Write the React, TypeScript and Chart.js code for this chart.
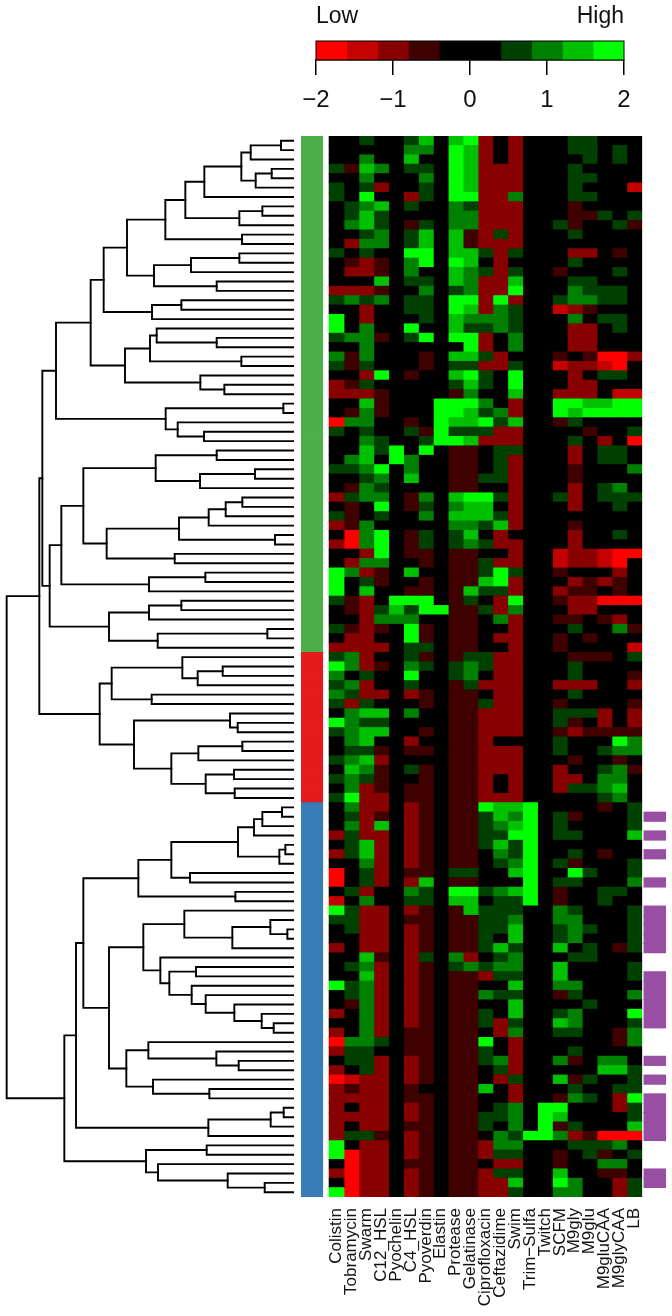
import React, { useEffect, useRef } from "react";
import { Chart, registerables } from "chart.js";

Chart.register(...registerables);

const FONT = "'Liberation Sans', Arial, sans-serif";

const columns = [
  "Colistin", "Tobramycin", "Swarm", "C12_HSL", "Pyochelin", "C4_HSL", "Pyoverdin", "Elastin",
  "Protease", "Gelatinase", "Ciprofloxacin", "Ceftazidime", "Swim", "Trim\u2212Sulfa", "Twitch",
  "SCFM", "M9gly", "M9glu", "M9gluCAA", "M9glyCAA", "LB",
];

// Colour key
const keyBreaks = [-2, -1.6, -1.2, -0.8, -0.4, 0, 0.4, 0.8, 1.2, 1.6, 2];
const keyColors = ["#ff0000", "#c40000", "#880000", "#3f0000", "#000000", "#000000", "#004000", "#008000", "#00c000", "#00ff00"];
const keyTicks = [-2, -1, 0, 1, 2];
const keyEnds = ["Low", "High"];

// Level codes used in heatRows
const levelValues: Record<string, number> = {
  A: -1.8, B: -1.4, C: -1, D: -0.6, ".": 0, "1": 0.6, "2": 1, "3": 1.4, "4": 1.8,
};

const heatRows = [
  "..1.. 13.34 C.C.. .11...",
  "..... 22.43 C.C.. .11.1.",
  "..2.. 3..43 C.C.. ..1.1.",
  "1D32. 11.43 CCC.. .1....",
  "..2.. .2.43 CCC.. .11...",
  "1.1C. .1.43 CCC.. .1...B",
  "1.4.. C1.44 CC2.. .11...",
  ".123. 1..21 CCC.. .D....",
  ".131. ...22 CCC.. .DD1.1",
  ".231. D1.22 CCC.. 1D..1D",
  "..12. 13.3D C1C.. .1....",
  ".C22. 13.3D CCC.. ......",
  "1.1.. 44.33 1C1.. .CC.D.",
  ".DCD. 24.43 .C... .1....",
  ".CCD. 2..32 1C1.. D...1.",
  "...3. 11.32 CC3.. .11...",
  "CCCD. .2.12 CC4.. .2111.",
  "1212. 11.44 C4C.. 12211.",
  "..C.. 11.43 C21.. BCD...",
  "4.C.. .1.32 221.. .2.11.",
  "4.2.. 4..31 121.. .CC.1.",
  "122D. 14.44 C.2.. .CC...",
  "..2.. ....4 C.2.. .CC...",
  "2D2.. .D.33 1C... D.DAAC",
  "1D1.. .D.11 CC1.. BCCBA.",
  "..C4. D..34 1.4.. .C.11.",
  "CD1.. ...13 1.4.. .CC...",
  "CCCD. ...D2 ..3.. CCC.BB",
  "..3D. ..444 2.C.. 443344",
  ".D2D. ..443 12C.. 434444",
  "A22.. D.433 413.. D1....",
  "1.1.. 1D411 1CC.. ..D..1",
  "..21. .1443 CCC.. .1.C.A",
  "..314 .4.DD .11.. .C.11.",
  ".23.4 2..DD .1C.. .C.11.",
  "1124. 2..DD .1C.. .D...2",
  "..12. 3..DD 11C.. .D....",
  ".D21. ...DD ..C.. .C.12.",
  "C122. D2.34 41C.. 1C.111",
  ".D.4. D1.23 3.C.. .C..1.",
  "1D.1. .2.33 31C.. ......",
  "CD2.. ...22 13C.. .D....",
  ".A24. D1.13 .C... .C..1.",
  "CA24. D1.12 1CC.. .C....",
  "..C4. DD.DD ..C.. BCCBAA",
  ".C22. .D.DD 1CC.. BCCBA.",
  "42CD. 3..DD 141.. D...C.",
  "4.1D. .D.DD 34C.. .CDCD.",
  "4.3.. DD.D3 11C.. CDD.D.",
  "1DC.4 44.D1 .C4.. DCCAAA",
  ".DC13 144DD 1C2.. .CC...",
  "..C22 2..DD .2C.. DD.DC.",
  "1DCD. 4D.DD ..C.. .1..2D",
  ".CC.. 4D.DD .CC.. D.D...",
  "CCCC. 11.DD ..C.. D....B",
  "12C.. 1D.D1 1CC.. .DDD.1",
  "42CD. 21.12 1CC.. .1....",
  "2.1.. 4..12 .CC.. .1...D",
  "12C.. 1..D1 CCC.. CCC..C",
  "21CC. CD.DD .CC.. .1....",
  "1C1.. .D.DD 1CC.. D....D",
  ".233. 2..DD CCC.. 111C.C",
  "4211. ...DD CCC.. 1D.C.C",
  "1233. .D.DD CCC.. DCDDDD",
  ".23.. C..DD C.... 1...42",
  ".11D. DD.DD CCC.. 1..122",
  "123C. ...DD CCC.. .D..D.",
  ".32D. 1D.DD CCC.. C..12D",
  "121D. .D.DD C.C.. CC.22.",
  ".2CD. DD.DD C.C.. C1123.",
  "14CC. DD.DD CCC.. ...12.",
  ".2CC. CD.DD 4334. ...D.1",
  ".1CD. CD.DD 1324. 1D...1",
  ".2C3. CD.DD 1234. 1....1",
  "C1CC. CD.DD 1144. 11...3",
  ".13C. CD.DD 1314. ......",
  "C13C. CD.DD .214. .1.D..",
  "..2C. CD.DD .124. 1D...1",
  "A.1C. DD.11 ..34. .41..1",
  "A.1C. C3.DD ...4. 11...2",
  ".1C.. 21.44 1234. D..11.",
  "B.2.. 11.33 .114. D..1..",
  "41CC. CD.D3 111.. 21...1",
  "11CC. DD.DD 112.. 22...1",
  ".1CC. CD.DD 113.. 121..1",
  "..CC. CD.DD 1.3.. 12...1",
  "C.CC. CD.DD 131.. 3.1.D1",
  "..3D. C1.2C .12.. .11...",
  ".12C. CD.12 122.. 3....1",
  "..3C. CD.DD C11.. 3....1",
  "412C. CD.DD ..3.. 22....",
  ".12C. CD.DD 211.. D1...2",
  ".D2C. CD.DD ..3.. ..1...",
  "C.2C. CD.DD 1.3.. 12...4",
  "..2C. CD.DD 1C1.. 32...1",
  "C.2C. DD.DD .C2.. 11..D2",
  "A221. DD.DD 4.C.. ....D2",
  "C11.. DD.DD 1.C.. .1....",
  ".11C. CD.DD 12C.. 2D.22.",
  "C.1C. CD.DD .1C.. ...331",
  "ABCC. CD.DD .C1.. 3D1..1",
  "CDCC. D..DD 3.C.. .1..11",
  "CCCC. DD.DD ..C.. D21.C4",
  "C.CC. CD.DD .12.4 4...C1",
  "CCCC. CD.DD 112.4 3....1",
  "C.CC. DD.DD 1.2.4 D1...3",
  "C11D. CD.DD .2144 2CDAAA",
  "4.CC. CD.DD C22.. .1112.",
  "4ACC. CD.DD C11.. D.1D.1",
  ".ACC. DD.DD .CC.. D..22.",
  "CACC. CD.DD C11.. 3..DD.",
  ".ACC. CD.DD CC3.. 42..C1",
  "4ACC. CD.DD CC1.. 22..C1",
];

// Row-side clusters: number of rows and colour, top to bottom
const clusterSizes = [55, 16, 42];
const clusterColors = ["#4daf4a", "#e41a1c", "#377eb8"];

// Rows flagged in the purple side bar
const flaggedRows = [72, 74, 76, 79, 82, 83, 84, 85, 86, 89, 90, 91, 92, 93, 94, 98, 100, 102, 103, 104, 105, 106, 110, 111];
const flagColor = "#984ea3";

// Dendrogram: [axis reading of the join, first child, second child]; L is a leaf, in row order
type Node = null | [number, Node, Node];
const L: Node = null;
const branchA: Node = [311, [381, [496, [556, [613, [724, [752, [843, L, L], L], [767, [815, L, L], L]], L], [718, [787, L, L], L]], [726, L, L]], [462, [573, [718, L, L], L], [650, L, L]]], [456, [544, L, L], L]];
const branchB: Node = [375, [450, [470, L, [650, L, L]], [724, L, L]], [601, L, [673, L, L]]];
const branchC: Node = [497, [850, L, L], [533, L, [612, L, L]]];
const branchD: Node = [250, [467, [650, L, L], [600, [765, L, L], L]], [320, [537, [626, [677, [727, L, L], L], L], [825, L, L]], [524, L, L]]];
const branchE: Node = [447, [616, L, L], L];
const branchF: Node = [327, [447, [544, L, L], L], [473, [802, L, L], L]];
const branchG: Node = [335, [547, L, [593, [668, L, L], L]], [455, L, L]];
const branchH: Node = [402, [690, L, [713, L, L]], [514, [595, [727, L, L], L], [617, [702, L, L], [704, L, L]]]];
const branchI: Node = [415, [514, [714, [762, [787, [846, L, L], L], L], [838, [856, L, L], L]], [570, L, L]], [706, L, L]];
const branchJ: Node = [430, [553, L, [697, [811, L, [862, L, L]], L]], [481, L, [508, [588, L, L], [575, L, [617, L, [703, L, [785, L, [821, L, L]]]]]]]];
const branchK: Node = [379, [445, L, [649, L, [716, L, L]]], [459, L, [628, L, L]]];
const branchM: Node = [625, [812, [851, L, L], L], L];
const branchN: Node = [438, [620, L, L], [474, L, [683, L, [794, L, L]]]];
const greenTree: Node = [127, [168, [272, branchA, branchB], branchC], [149, [184, branchD, branchE], branchF]];
const redTree: Node = [299, branchG, branchH];
const blueTree: Node = [193, [228, [250, branchI, [327, branchJ, branchK]], branchM], branchN];
const treeRoot: Node = [20, [118, greenTree, redTree], blueTree];
const LEAF_X = 882;

const rowLevels = heatRows.map((r) => r.replace(/ /g, "").split("").map((c) => levelValues[c]));

function binColor(v: number) {
  for (let i = 0; i < keyColors.length; i++) {
    if (v >= keyBreaks[i] && v < keyBreaks[i + 1]) return keyColors[i];
  }
  return keyColors[keyColors.length - 1];
}

// Neighbouring key bins of one colour become a single band
function keyBands() {
  const bands: { from: number; to: number; color: string }[] = [];
  keyColors.forEach((color, i) => {
    const last = bands[bands.length - 1];
    if (last && last.color === color) last.to = keyBreaks[i + 1];
    else bands.push({ from: keyBreaks[i], to: keyBreaks[i + 1], color });
  });
  return bands;
}

function treeSegments(root: Node) {
  const segments: { x: number; y: number }[][] = [];
  let next = 0;
  const walk = (n: Node): { x: number; y: number } => {
    if (n === null) return { x: LEAF_X, y: next++ };
    const a = walk(n[1]);
    const b = walk(n[2]);
    segments.push([
      { x: a.x, y: a.y },
      { x: n[0], y: a.y },
      { x: n[0], y: b.y },
      { x: b.x, y: b.y },
    ]);
    return { x: n[0], y: (a.y + b.y) / 2 };
  };
  walk(root);
  return segments;
}

const boxPlugin = {
  id: "keyBox",
  afterDatasetsDraw(chart: any) {
    const { ctx, chartArea: a } = chart;
    ctx.save();
    ctx.strokeStyle = "#000";
    ctx.lineWidth = 1;
    ctx.strokeRect(a.left, a.top, a.right - a.left, a.bottom - a.top);
    ctx.restore();
  },
};

export default function App() {
  const keyRef = useRef<HTMLCanvasElement>(null);
  const treeRef = useRef<HTMLCanvasElement>(null);
  const heatRef = useRef<HTMLCanvasElement>(null);

  useEffect(() => {
    const keyChart = new Chart(keyRef.current!, {
      type: "bar",
      plugins: [boxPlugin],
      data: {
        labels: ["key"],
        datasets: keyBands().map((b) => ({
          data: [[b.from, b.to]],
          backgroundColor: b.color,
          grouped: false,
          barPercentage: 1,
          categoryPercentage: 1,
          borderWidth: 0,
          inflateAmount: 0.4,
        })),
      } as any,
      options: {
        indexAxis: "y",
        animation: false,
        responsive: false,
        layout: { padding: { left: 16, right: 16 } },
        plugins: { legend: { display: false }, tooltip: { enabled: false } },
        scales: {
          y: { display: false },
          x: {
            type: "linear",
            position: "bottom",
            min: -2,
            max: 2,
            afterBuildTicks: (s: any) => { s.ticks = keyTicks.map((value) => ({ value })); },
            afterFit: (s: any) => { s.height = 60; s.paddingLeft = 0; s.paddingRight = 0; },
            grid: { drawOnChartArea: false, tickLength: 15, color: "#000", lineWidth: 1.5 },
            border: { display: true, color: "#000", width: 1.5 },
            ticks: {
              font: { family: FONT, size: 24 },
              color: "#111",
              padding: 11,
              maxRotation: 0,
              autoSkip: false,
              callback: (v: any) => (v < 0 ? "\u2212" : "") + Math.abs(v),
            },
          },
          xEnds: {
            type: "linear",
            axis: "x",
            position: "top",
            min: -2,
            max: 2,
            afterBuildTicks: (s: any) => { s.ticks = [{ value: -2 }, { value: 2 }]; },
            afterFit: (s: any) => { s.height = 41; s.paddingLeft = 0; s.paddingRight = 0; },
            grid: { display: false, drawTicks: false },
            border: { display: false },
            ticks: {
              font: { family: FONT, size: 23 },
              color: "#111",
              padding: 11,
              align: "inner",
              maxRotation: 0,
              autoSkip: false,
              callback: (_v: any, i: number) => keyEnds[i],
            },
          },
        },
      } as any,
    });

    const treeChart = new Chart(treeRef.current!, {
      type: "scatter",
      data: {
        datasets: treeSegments(treeRoot).map((points) => ({
          data: points,
          showLine: true,
          borderColor: "#000",
          borderWidth: 1.9,
          pointRadius: 0,
          tension: 0,
          borderCapStyle: "square",
          borderJoinStyle: "miter",
        })),
      } as any,
      options: {
        animation: false,
        responsive: false,
        plugins: { legend: { display: false }, tooltip: { enabled: false } },
        scales: {
          x: { type: "linear", display: false, min: 0, max: LEAF_X },
          y: { type: "linear", display: false, min: -0.5, max: heatRows.length - 0.5, reverse: true },
        },
      } as any,
    });

    const rowLabels = heatRows.map((_, i) => String(i));
    const clusterOfRow: string[] = [];
    clusterSizes.forEach((n, k) => { for (let i = 0; i < n; i++) clusterOfRow.push(clusterColors[k]); });

    const barBase = { grouped: false, barPercentage: 1, categoryPercentage: 1, borderWidth: 0, inflateAmount: 0.4 };
    const heatChart = new Chart(heatRef.current!, {
      type: "bar",
      data: {
        labels: rowLabels,
        datasets: [
          {
            ...barBase,
            data: rowLabels.map(() => [-1.888, -0.43]),
            backgroundColor: clusterOfRow,
          },
          ...columns.map((_, c) => ({
            ...barBase,
            data: rowLevels.map(() => [c, c + 1]),
            backgroundColor: rowLevels.map((r) => binColor(r[c])),
          })),
          {
            ...barBase,
            data: rowLabels.map((_, i) => (flaggedRows.includes(i) ? [21.15, 22.63] : null)),
            backgroundColor: flagColor,
          },
        ],
      } as any,
      options: {
        indexAxis: "y",
        animation: false,
        responsive: false,
        plugins: { legend: { display: false }, tooltip: { enabled: false } },
        scales: {
          y: { display: false },
          x: {
            type: "linear",
            position: "bottom",
            min: -1.888,
            max: 22.63,
            afterBuildTicks: (s: any) => { s.ticks = columns.map((_, i) => ({ value: i + 0.5 })); },
            afterFit: (s: any) => { s.height = 119; },
            grid: { display: false, drawTicks: false },
            border: { display: false },
            ticks: {
              font: { family: FONT, size: 17 },
              color: "#111",
              padding: 11,
              autoSkip: false,
              minRotation: 90,
              maxRotation: 90,
              callback: (_v: any, i: number) => columns[i],
            },
          },
        },
      } as any,
    });

    return () => {
      keyChart.destroy();
      treeChart.destroy();
      heatChart.destroy();
    };
  }, []);

  const abs = (left: number, top: number): React.CSSProperties => ({ position: "absolute", left, top, display: "block" });

  return (
    <div style={{ position: "absolute", left: 0, top: 0, width: 672, height: 1316, background: "#fff", overflow: "hidden" }}>
      <canvas ref={keyRef} width={340} height={120} style={abs(300, 0)} />
      <canvas ref={treeRef} width={294} height={1061} style={abs(0, 136)} />
      <canvas ref={heatRef} width={365} height={1180} style={abs(301, 136)} />
    </div>
  );
}
